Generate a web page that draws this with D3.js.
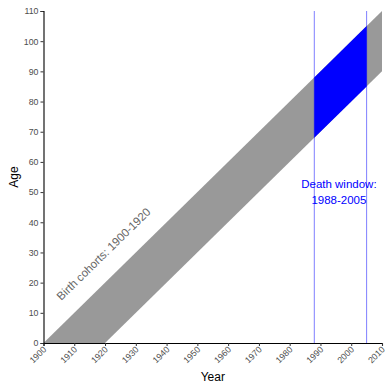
<!DOCTYPE html>
<html>
<head>
<meta charset="utf-8">
<script src="https://cdn.jsdelivr.net/npm/d3@7"></script>
<style>
  html, body { margin: 0; padding: 0; background: #fff; }
  svg { display: block; font-family: "Liberation Sans", Arial, sans-serif; }
</style>
</head>
<body>
<svg id="chart" width="386" height="383"></svg>
<script>
// Lexis diagram: birth cohorts and the death window
const cohortStart = 1900;
const cohortEnd = 1920;
const windowStart = 1988;
const windowEnd = 2005;
const yearDomain = [1900, 2010];
const ageDomain = [0, 110];
const yearTicks = [1900, 1910, 1920, 1930, 1940, 1950, 1960, 1970, 1980, 1990, 2000, 2010];
const ageTicks = [0, 10, 20, 30, 40, 50, 60, 70, 80, 90, 100, 110];
const cohortLabel = "Birth cohorts: 1900-1920";
const windowLabel = ["Death window:", "1988-2005"];
const cohortLabelPos = { year: 1919.5, age: 29.5 };
const windowLabelPos = { year: 1996, age: 50 };

const svg = d3.select("#chart");
const margin = { left: 43.5, right: 4, top: 11, bottom: 40 };
const W = 386, H = 383;

const x = d3.scaleLinear().domain(yearDomain).range([margin.left, W - margin.right]);
const y = d3.scaleLinear().domain(ageDomain).range([H - margin.bottom, margin.top]);

// Cohort band: age = year - birthYear, for birth years in [cohortStart, cohortEnd]
const endYear = yearDomain[1];
const band = [
  [cohortStart, 0],
  [cohortEnd, 0],
  [endYear, endYear - cohortEnd],
  [endYear, endYear - cohortStart]
];
const windowPoly = [
  [windowStart, windowStart - cohortEnd],
  [windowEnd, windowEnd - cohortEnd],
  [windowEnd, windowEnd - cohortStart],
  [windowStart, windowStart - cohortStart]
];

const line = d3.line().x(d => x(d[0])).y(d => y(d[1]));

svg.append("path")
  .attr("d", line(band) + "Z")
  .attr("fill", "#999999");

svg.append("path")
  .attr("d", line(windowPoly) + "Z")
  .attr("fill", "#0000ff");

// Vertical window boundaries
svg.selectAll(".vline")
  .data([windowStart, windowEnd])
  .join("line")
  .attr("x1", d => x(d)).attr("x2", d => x(d))
  .attr("y1", y(ageDomain[1])).attr("y2", y(ageDomain[0]))
  .attr("stroke", "#0000ff")
  .attr("stroke-opacity", 0.5)
  .attr("stroke-width", 1);

// Axes
const xAxis = svg.append("g")
  .attr("transform", `translate(0,${y(0)})`)
  .call(d3.axisBottom(x).tickValues(yearTicks).tickFormat(d3.format("d")).tickSize(3).tickPadding(2));
xAxis.select(".domain").attr("stroke", "#000").attr("stroke-width", 1.1);
xAxis.selectAll(".tick line").attr("stroke", "#333");
xAxis.selectAll(".tick text")
  .attr("fill", "#4d4d4d")
  .attr("font-size", "8.8px")
  .attr("text-anchor", "end")
  .attr("dy", null)
  .attr("y", null)
  .attr("transform", "translate(3,7) rotate(-45)");

const yAxis = svg.append("g")
  .attr("transform", `translate(${x(yearDomain[0])},0)`)
  .call(d3.axisLeft(y).tickValues(ageTicks).tickSize(3).tickPadding(2));
yAxis.select(".domain").attr("stroke", "#000").attr("stroke-width", 1.1);
yAxis.selectAll(".tick line").attr("stroke", "#333");
yAxis.selectAll(".tick text")
  .attr("fill", "#4d4d4d")
  .attr("font-size", "8.8px");

// Axis titles
svg.append("text")
  .attr("x", (x(yearDomain[0]) + x(yearDomain[1])) / 2)
  .attr("y", 381)
  .attr("text-anchor", "middle")
  .attr("font-size", "12px")
  .attr("fill", "#000")
  .text("Year");

svg.append("text")
  .attr("transform", `translate(18,${(y(ageDomain[0]) + y(ageDomain[1])) / 2}) rotate(-90)`)
  .attr("text-anchor", "middle")
  .attr("font-size", "12px")
  .attr("fill", "#000")
  .text("Age");

// Annotations
const slopeAngle = Math.atan2(y(0) - y(1), x(1) - x(0)) * 180 / Math.PI;
svg.append("text")
  .attr("transform", `translate(${x(cohortLabelPos.year)},${y(cohortLabelPos.age)}) rotate(${-slopeAngle})`)
  .attr("text-anchor", "middle")
  .attr("dy", "0.35em")
  .attr("font-size", "11.5px")
  .attr("fill", "#666666")
  .text(cohortLabel);

const wl = svg.append("text")
  .attr("text-anchor", "middle")
  .attr("font-size", "11.5px")
  .attr("fill", "#0000ff");
wl.selectAll("tspan")
  .data(windowLabel)
  .join("tspan")
  .attr("x", x(windowLabelPos.year))
  .attr("y", (d, i) => y(windowLabelPos.age) - 4 + i * 16)
  .text(d => d);
</script>
</body>
</html>
